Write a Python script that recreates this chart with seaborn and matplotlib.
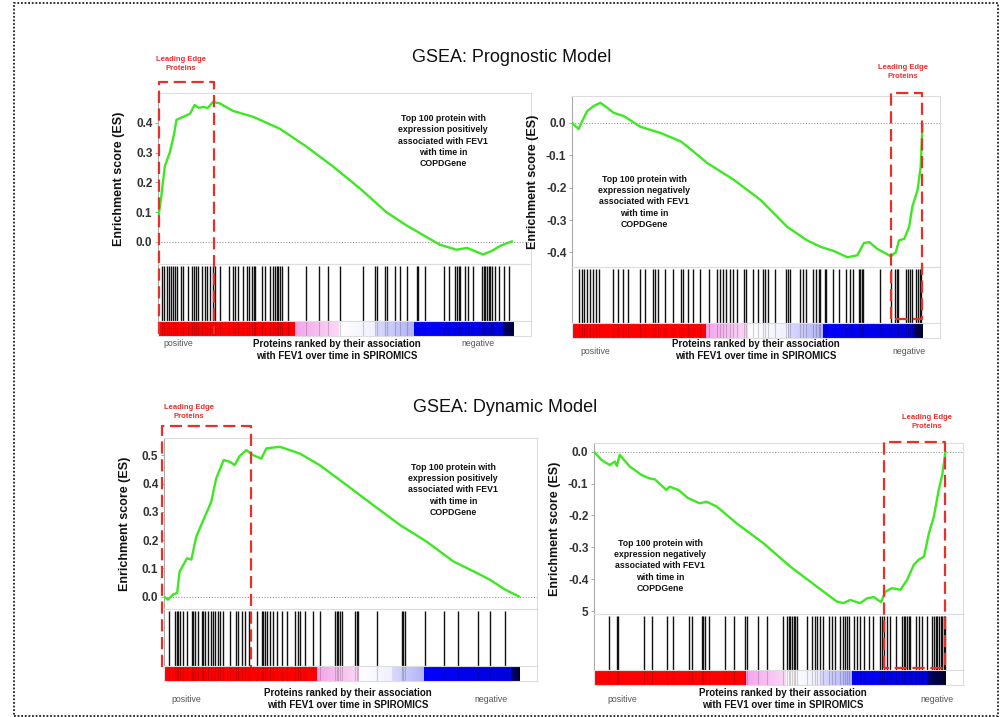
import numpy as np
import pandas as pd
import matplotlib
matplotlib.use("Agg")
import matplotlib.pyplot as plt
import seaborn as sns
from matplotlib.transforms import blended_transform_factory
from matplotlib.colors import to_rgb
from matplotlib.patches import Rectangle
from matplotlib.lines import Line2D

sns.set_theme(style="white")
plt.rcParams['font.family'] = ['Liberation Sans', 'DejaVu Sans']

W, H = 1003, 717

# ---------------- data ----------------
titles = ["GSEA: Prognostic Model", "GSEA: Dynamic Model"]
ylabel = "Enrichment score (ES)"
xlabel = "Proteins ranked by their association\nwith FEV1 over time in SPIROMICS"
end_labels = ["positive", "negative"]
le_label = "Leading Edge\nProteins"
note_pos = "Top 100 protein with\nexpression positively\nassociated with FEV1\nwith time in\nCOPDGene"
note_neg = "Top 100 protein with\nexpression negatively\nassociated with FEV1\nwith time in\nCOPDGene"

# running enrichment score (rank fraction, ES)
p1_rank = [0.0, 0.003, 0.01, 0.019, 0.033, 0.045, 0.052, 0.08, 0.09, 0.103, 0.115, 0.127, 0.14, 0.155,
           0.174, 0.211, 0.268, 0.343, 0.418, 0.493, 0.568, 0.643, 0.70, 0.728, 0.793, 0.84, 0.87,
           0.915, 0.94, 0.962, 0.98, 0.997]
p1_es = [0.08, 0.10, 0.16, 0.253, 0.30, 0.36, 0.41, 0.425, 0.43, 0.46, 0.45, 0.453, 0.45, 0.47,
         0.465, 0.44, 0.42, 0.38, 0.32, 0.253, 0.18, 0.10, 0.055, 0.036, -0.009, -0.026, -0.02,
         -0.042, -0.03, -0.014, -0.005, 0.002]

p2_rank = [0.0, 0.019, 0.029, 0.043, 0.062, 0.081, 0.10, 0.119, 0.148, 0.195, 0.252, 0.31, 0.329,
           0.386, 0.462, 0.538, 0.614, 0.671, 0.71, 0.748, 0.786, 0.814, 0.833, 0.848, 0.871, 0.91,
           0.924, 0.933, 0.948, 0.962, 0.971, 0.986, 0.995, 1.0]
p2_es = [0.0, -0.019, 0.005, 0.036, 0.052, 0.062, 0.047, 0.031, 0.021, -0.012, -0.031, -0.057, -0.073,
         -0.124, -0.176, -0.238, -0.321, -0.363, -0.383, -0.396, -0.415, -0.409, -0.371, -0.368,
         -0.389, -0.412, -0.399, -0.363, -0.358, -0.321, -0.259, -0.207, -0.135, -0.005]

p3_rank = [0.0, 0.011, 0.025, 0.037, 0.044, 0.065, 0.077, 0.091, 0.105, 0.119, 0.133, 0.147, 0.168,
           0.185, 0.199, 0.213, 0.232, 0.251, 0.274, 0.288, 0.326, 0.382, 0.438, 0.495, 0.57, 0.664,
           0.739, 0.814, 0.88, 0.917, 0.96, 1.0]
p3_es = [0.0, -0.011, 0.007, 0.013, 0.089, 0.136, 0.131, 0.213, 0.254, 0.295, 0.336, 0.419, 0.484,
         0.478, 0.466, 0.498, 0.519, 0.501, 0.489, 0.525, 0.531, 0.507, 0.466, 0.413, 0.342, 0.254,
         0.195, 0.125, 0.084, 0.06, 0.025, 0.0]

p4_rank = [0.0, 0.021, 0.045, 0.059, 0.065, 0.073, 0.102, 0.135, 0.158, 0.173, 0.206, 0.215, 0.24,
           0.268, 0.301, 0.32, 0.349, 0.406, 0.482, 0.558, 0.634, 0.691, 0.71, 0.729, 0.757, 0.777,
           0.796, 0.817, 0.829, 0.848, 0.872, 0.891, 0.91, 0.924, 0.939, 0.953, 0.967, 0.981, 0.991, 1.0]
p4_es = [0.0, -0.026, -0.042, -0.031, -0.045, -0.010, -0.047, -0.073, -0.084, -0.087, -0.12, -0.11,
         -0.12, -0.146, -0.162, -0.157, -0.172, -0.225, -0.287, -0.36, -0.423, -0.47, -0.475, -0.465,
         -0.475, -0.46, -0.456, -0.472, -0.439, -0.428, -0.433, -0.402, -0.355, -0.339, -0.329,
         -0.256, -0.204, -0.12, -0.073, 0.0]

# hit positions (rank, per mille of ranked list)
p1_hits = [12, 18, 24, 31, 38, 43, 48, 53, 65, 71, 85, 95, 102, 106, 114, 123, 132, 137, 146, 156, 161,
           175, 200, 212, 217, 226, 240, 250, 256, 264, 269, 273, 292, 301, 315, 325, 330, 334, 339,
           344, 348, 367, 416, 454, 478, 513, 578, 611, 616, 639, 644, 668, 682, 700, 729, 733, 752,
           804, 818, 837, 841, 846, 851, 865, 874, 888, 912, 917, 921, 926, 931, 935, 940, 949, 959,
           973, 989]
p2_hits = [19, 29, 35, 42, 50, 59, 69, 78, 116, 130, 145, 159, 194, 207, 232, 238, 245, 264, 288, 311,
           316, 330, 345, 364, 392, 413, 421, 430, 440, 450, 459, 470, 492, 497, 516, 530, 545, 552,
           559, 578, 611, 616, 621, 650, 659, 669, 688, 697, 705, 709, 721, 726, 745, 762, 783, 792,
           802, 819, 823, 827, 830, 878, 911, 921, 926, 930, 954, 959, 964, 969, 981, 988, 992, 997]
p3_hits = [15, 31, 36, 40, 45, 54, 64, 78, 83, 87, 97, 106, 111, 115, 125, 131, 139, 144, 153, 158,
           167, 186, 203, 209, 219, 228, 238, 261, 275, 280, 285, 289, 299, 308, 317, 331, 346, 369,
           378, 383, 397, 419, 439, 482, 486, 491, 496, 500, 538, 543, 547, 599, 669, 674, 679, 735,
           787, 829, 885, 918, 961]
p4_hits = [44, 66, 69, 141, 164, 209, 226, 269, 278, 307, 311, 316, 326, 373, 397, 430, 435, 468, 492,
           539, 549, 554, 558, 563, 568, 573, 577, 606, 620, 630, 634, 644, 653, 668, 677, 687, 701,
           708, 715, 720, 727, 739, 748, 758, 767, 782, 794, 815, 819, 824, 834, 843, 858, 877, 881,
           886, 891, 896, 900, 915, 924, 934, 948, 962, 967, 972, 977, 981, 986, 991, 995, 999]

# ranked-list colour bar: band edges (rank fraction) and band colours (start, end)
p1_bands = [0.0, 0.386, 0.508, 0.611, 0.719, 0.968, 1.0]
p2_bands = [0.0, 0.383, 0.502, 0.616, 0.716, 0.973, 1.0]
p3_bands = [0.0, 0.430, 0.547, 0.641, 0.731, 0.975, 1.0]
p4_bands = [0.0, 0.433, 0.544, 0.644, 0.734, 0.948, 1.0]
band_colors = [("#ff0000", "#ff0000"), ("#f4a4ec", "#fbd8f7"), ("#ffffff", "#f0f0ff"),
               ("#dadafe", "#b2b2f6"), ("#0000ff", "#0000dd"), ("#00007a", "#000030")]

# y ticks
p1_ticks = [0.0, 0.1, 0.2, 0.3, 0.4]
p1_tlab = ["0.0", "0.1", "0.2", "0.3", "0.4"]
p2_ticks = [0.0, -0.1, -0.2, -0.3, -0.4]
p2_tlab = ["0.0", "-0.1", "-0.2", "-0.3", "-0.4"]
p3_ticks = [0.0, 0.1, 0.2, 0.3, 0.4, 0.5]
p3_tlab = ["0.0", "0.1", "0.2", "0.3", "0.4", "0.5"]
p4_ticks = [0.0, -0.1, -0.2, -0.3, -0.4, -0.5]
p4_tlab = ["0.0", "-0.1", "-0.2", "-0.3", "-0.4", "5"]

# leading edge ranges (rank fraction)
p1_le = (0.003, 0.158)
p2_le = (0.911, 1.0)
p3_le = (-0.006, 0.245)
p4_le = (0.826, 1.0)

# ---------------- layout (pixels) ----------------
panels = [
    dict(rank=p1_rank, es=p1_es, hits=p1_hits, bands=p1_bands, ticks=p1_ticks, tlab=p1_tlab,
         ylim=(-0.074, 0.50), le=p1_le, note=note_pos,
         left=158, right=531, es_y=(93, 264), hit_y=(264, 321), cb_y=(321, 336),
         box_y=(82, 334), closed=False, le_txt=(181, 64), note_xy=(443, 141),
         pos_xy=(178, 343), neg_xy=(478, 343), xl_xy=(337, 350)),
    dict(rank=p2_rank, es=p2_es, hits=p2_hits, bands=p2_bands, ticks=p2_ticks, tlab=p2_tlab,
         ylim=(-0.445, 0.083), le=p2_le, note=note_neg,
         left=572, right=940, es_y=(96, 267), hit_y=(267, 323), cb_y=(323, 338),
         box_y=(93, 319), closed=True, le_txt=(903, 72), note_xy=(644, 202),
         pos_xy=(595, 352), neg_xy=(909, 352), xl_xy=(756, 350)),
    dict(rank=p3_rank, es=p3_es, hits=p3_hits, bands=p3_bands, ticks=p3_ticks, tlab=p3_tlab,
         ylim=(-0.044, 0.562), le=p3_le, note=note_pos,
         left=164, right=537, es_y=(438, 609), hit_y=(609, 666), cb_y=(666, 681),
         box_y=(426, 667), closed=False, le_txt=(189, 412), note_xy=(453, 490),
         pos_xy=(186, 699), neg_xy=(491, 699), xl_xy=(348, 699)),
    dict(rank=p4_rank, es=p4_es, hits=p4_hits, bands=p4_bands, ticks=p4_ticks, tlab=p4_tlab,
         ylim=(-0.509, 0.027), le=p4_le, note=note_neg,
         left=594, right=963, es_y=(443, 614), hit_y=(614, 670), cb_y=(670, 685),
         box_y=(442, 668), closed=True, le_txt=(927, 422), note_xy=(660, 566),
         pos_xy=(622, 699), neg_xy=(937, 699), xl_xy=(783, 699)),
]
title_xy = [(512, 58), (505, 407)]

XMAX = 1.05
GREEN = "#3de823"
RED = "#e8302a"

fig = plt.figure(figsize=(W / 100, H / 100), dpi=100)
fig.patch.set_facecolor("white")


def fx(x):
    return x / W


def fy(y):
    return 1 - y / H


def add_ax(left, right, top, bottom):
    return fig.add_axes([fx(left), fy(bottom), (right - left) / W, (bottom - top) / H])


def style_frame(ax, left_col="#aaaaaa"):
    for s in ["top", "right", "bottom"]:
        ax.spines[s].set_color("#dddddd")
        ax.spines[s].set_linewidth(0.8)
    ax.spines["left"].set_color(left_col)
    ax.spines["left"].set_linewidth(0.8)


def band_image(bands, n=700):
    t = (np.arange(n) + 0.5) / n
    img = np.ones((1, n, 3))
    for i in range(len(bands) - 1):
        a, b = bands[i], bands[i + 1]
        m = (t >= a) & (t < b)
        c0, c1 = np.array(to_rgb(band_colors[i][0])), np.array(to_rgb(band_colors[i][1]))
        f = ((t[m] - a) / (b - a))[:, None]
        img[0, m, :] = c0 * (1 - f) + c1 * f
    return img


for p in panels:
    # --- ES axes ---
    ax = add_ax(p["left"], p["right"], *p["es_y"])
    df = pd.DataFrame({"rank": p["rank"], "es": p["es"]})
    sns.lineplot(data=df, x="rank", y="es", ax=ax, color=GREEN, linewidth=1.7, zorder=3)
    ax.axhline(0, color="#999999", ls=(0, (1, 1.5)), lw=0.8, zorder=1)
    ax.set_xlim(0, XMAX)
    ax.set_ylim(*p["ylim"])
    ax.set_xticks([])
    ax.set_yticks(p["ticks"])
    ax.set_yticklabels(p["tlab"], fontsize=8.5, fontweight="bold", color="#333333")
    ax.tick_params(axis="y", length=2, width=0.6, color="#999999", pad=2, left=True)
    ax.set_xlabel("")
    ax.set_ylabel(ylabel, fontsize=9, fontweight="bold", color="#111111")
    ax.yaxis.set_label_coords(-33 / (p["right"] - p["left"]), 0.5)
    style_frame(ax)
    ax.grid(False)

    # --- hits axes ---
    axh = add_ax(p["left"], p["right"], *p["hit_y"])
    axh.set_facecolor("none")
    axh.vlines(np.array(p["hits"]) / 1000.0, 0.0, 0.97, color="#111111", lw=1.0)
    axh.set_xlim(0, XMAX)
    axh.set_ylim(0, 1)
    axh.set_xticks([])
    axh.set_yticks([])
    style_frame(axh)

    # --- colour bar axes ---
    axc = add_ax(p["left"], p["right"], *p["cb_y"])
    axc.imshow(band_image(p["bands"]), extent=(0, 1, 0, 1), aspect="auto", interpolation="nearest")
    axc.vlines(np.array(p["hits"]) / 1000.0, 0, 1, color="#000000", lw=0.8, alpha=0.18)
    axc.set_xlim(0, XMAX)
    axc.set_ylim(0, 1)
    axc.set_xticks([])
    axc.set_yticks([])
    style_frame(axc, left_col="#dddddd")

    # --- leading-edge dashed box ---
    blend = blended_transform_factory(ax.transData, fig.transFigure)
    x0, x1 = p["le"]
    yt, yb = fy(p["box_y"][0]), fy(p["box_y"][1])
    if p["closed"]:
        xs, ys = [x0, x0, x1, x1, x0], [yb, yt, yt, yb, yb]
    else:
        xs, ys = [x0, x0, x1, x1], [yb, yt, yt, yb]
    fig.add_artist(Line2D(xs, ys, transform=blend, color=RED, lw=1.6,
                          linestyle=(0, (5.5, 2.5)), zorder=10))
    fig.text(fx(p["le_txt"][0]), fy(p["le_txt"][1]), le_label, color=RED, fontsize=5.5,
             fontweight="bold", ha="center", va="center", linespacing=1.25)

    # --- annotation ---
    fig.text(fx(p["note_xy"][0]), fy(p["note_xy"][1]), p["note"], fontsize=6.3, fontweight="bold",
             color="#111111", ha="center", va="center", linespacing=1.35)

    # --- x-axis texts ---
    fig.text(fx(p["pos_xy"][0]), fy(p["pos_xy"][1]), end_labels[0], fontsize=6.3, color="#555555",
             ha="center", va="center")
    fig.text(fx(p["neg_xy"][0]), fy(p["neg_xy"][1]), end_labels[1], fontsize=6.3, color="#555555",
             ha="center", va="center")
    fig.text(fx(p["xl_xy"][0]), fy(p["xl_xy"][1]), xlabel, fontsize=7, fontweight="bold",
             color="#111111", ha="center", va="center", linespacing=1.25)

for t, (x, y) in zip(titles, title_xy):
    fig.text(fx(x), fy(y), t, fontsize=13, color="#111111", ha="center", va="center")

# dotted outer border
fig.add_artist(Rectangle((fx(14), fy(716)), (998 - 14) / W, (716 - 3) / H, transform=fig.transFigure,
                         fill=False, edgecolor="#222222", lw=1.3, linestyle=(0, (1, 1)), zorder=20))

fig.savefig("out.png", dpi=100, facecolor="white")
